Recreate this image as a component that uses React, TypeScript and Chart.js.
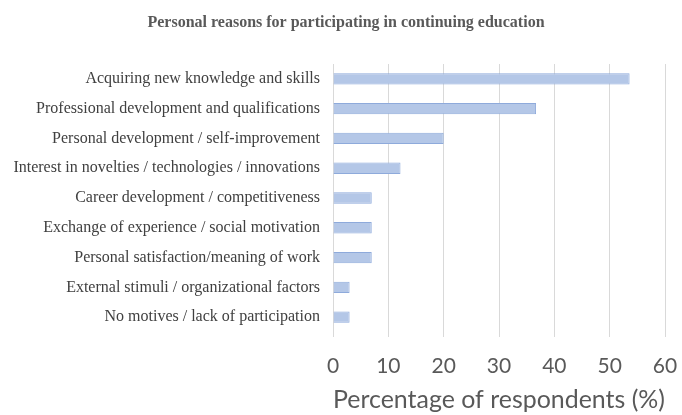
import React, { useEffect, useRef } from "react";
import { Chart, registerables } from "chart.js";

Chart.register(...registerables);

const categories = [
  "Acquiring new knowledge and skills",
  "Professional development and qualifications",
  "Personal development / self-improvement",
  "Interest in novelties / technologies / innovations",
  "Career development / competitiveness",
  "Exchange of experience / social motivation",
  "Personal satisfaction/meaning of work",
  "External stimuli / organizational factors",
  "No motives / lack of participation",
];
const values = [53.6, 36.7, 20, 12.2, 7, 7, 7, 3, 3];
const xTicks = [0, 10, 20, 30, 40, 50, 60];
const chartTitle = "Personal reasons for participating in continuing education";
const xAxisTitle = "Percentage of respondents (%)";

export default function App() {
  const ref = useRef<HTMLCanvasElement | null>(null);
  useEffect(() => {
    if (!ref.current) return;
    const chart = new Chart(ref.current, {
      type: "bar",
      data: {
        labels: categories,
        datasets: [
          {
            data: values,
            backgroundColor: "#b4c7e7",
            borderColor: "#8eaadb",
            borderWidth: 1,
            barPercentage: 0.38,
            categoryPercentage: 1,
          },
        ],
      },
      options: {
        indexAxis: "y",
        responsive: false,
        animation: false,
        layout: { padding: { left: 0, right: -10, top: 0, bottom: 0 } },
        plugins: {
          legend: { display: false },
          tooltip: { enabled: false },
          title: {
            display: true,
            text: chartTitle,
            color: "#595959",
            font: { family: "'Liberation Serif', serif", size: 16, weight: "bold" },
            padding: { top: 13, bottom: 31.8 },
          },
        },
        scales: {
          x: {
            type: "linear",
            min: 0,
            max: 60,
            afterBuildTicks: (s: any) => {
              s.ticks = xTicks.map((v) => ({ value: v }));
            },
            afterFit: (s: any) => {
              s.height = 83;
              s.paddingRight = 17;
              s.paddingLeft = 0;
            },
            grid: { color: "#d9d9d9", lineWidth: 1, drawTicks: true, tickLength: 5 },
            border: { display: false },
            ticks: {
              color: "#595959",
              font: { family: "Lato, sans-serif", size: 21 },
              padding: 17,
            },
            title: {
              display: true,
              text: xAxisTitle,
              color: "#595959",
              font: { family: "Lato, sans-serif", size: 25.5 },
              padding: { top: 0, bottom: 0 },
            },
          },
          y: {
            type: "category",
            afterFit: (s: any) => {
              s.width = 333;
            },
            grid: { display: false, drawTicks: false },
            border: { display: false },
            ticks: {
              color: "#404040",
              font: { family: "'Liberation Serif', serif", size: 16 },
              padding: 13,
              autoSkip: false,
            },
          },
        },
      },
    });
    return () => chart.destroy();
  }, []);
  return (
    <div style={{ position: "fixed", left: 0, top: 0, width: 682, height: 415, background: "#fff" }}>
      <canvas ref={ref} width={682} height={415} />
    </div>
  );
}
